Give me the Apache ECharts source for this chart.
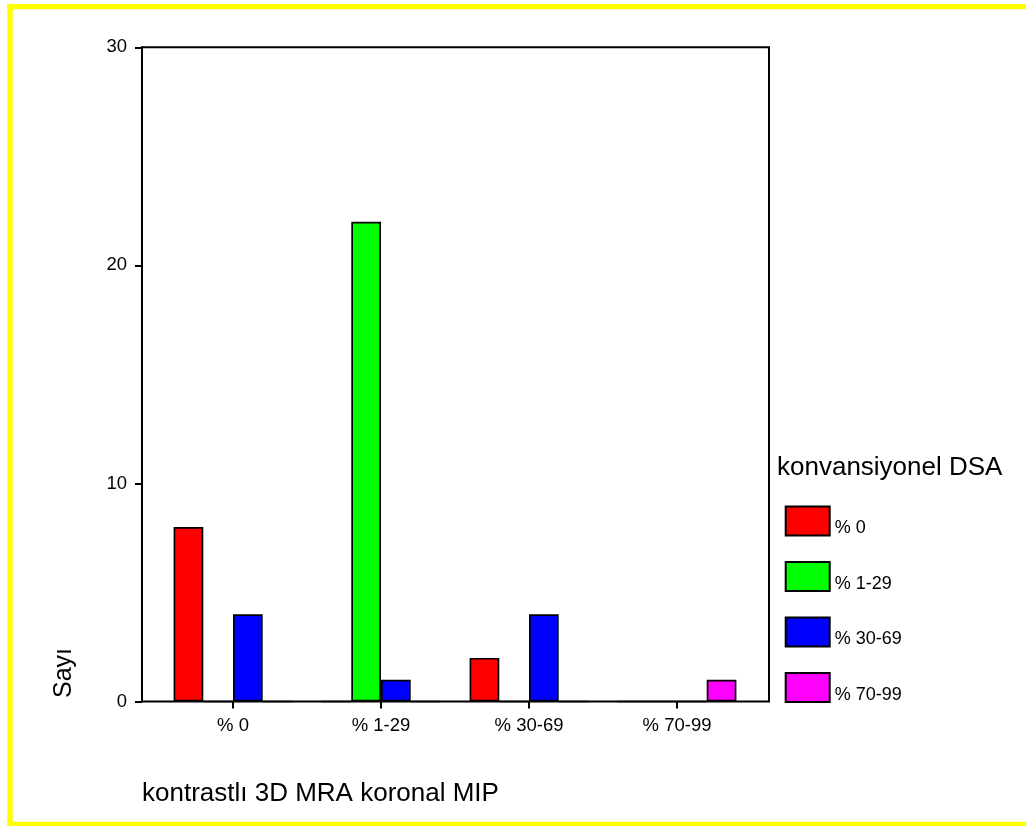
<!DOCTYPE html>
<html>
<head>
<meta charset="utf-8">
<script src="https://cdn.jsdelivr.net/npm/echarts@6/dist/echarts.min.js"></script>
<style>
html,body{margin:0;padding:0;background:#fff;}
#chart{width:1026px;height:826px;}
</style>
</head>
<body>
<div id="chart"></div>
<script>
const categories = ['% 0', '% 1-29', '% 30-69', '% 70-99'];
const seriesNames = ['% 0', '% 1-29', '% 30-69', '% 70-99'];
const dsa0 = [8, 0, 2, 0];
const dsa1_29 = [0, 22, 0, 0];
const dsa30_69 = [4, 1, 4, 0];
const dsa70_99 = [0, 0, 0, 1];
const yTicks = [0, 10, 20, 30];
const seriesColors = ['#ff0000', '#00ff00', '#0000ff', '#ff00ff'];
const xTitle = 'kontrastlı 3D MRA koronal MIP';
const yTitle = 'Sayı';
const legendTitle = 'konvansiyonel DSA';

const FONT = '"Liberation Sans", Arial, sans-serif';
const seriesData = [dsa0, dsa1_29, dsa30_69, dsa70_99];

const chart = echarts.init(document.getElementById('chart'), null, {renderer: 'canvas'});
const option = {
  animation: false,
  backgroundColor: '#ffffff',
  textStyle: {fontFamily: FONT, color: '#000'},
  grid: [
    {left: 142, top: 47.3, width: 627, height: 654.2, show: true, borderColor: '#000', borderWidth: 2, backgroundColor: 'transparent'},
    {left: 159, top: 47.3, width: 592, height: 654.2, show: false}
  ],
  xAxis: [
    {gridIndex: 0, type: 'value', min: 0, max: 1, show: false},
    {gridIndex: 1, type: 'category', data: categories,
      axisLine: {show: false},
      axisTick: {show: true, alignWithLabel: true, length: 7, lineStyle: {color: '#000', width: 2}},
      axisLabel: {margin: 15, fontSize: 18.5, color: '#000', fontFamily: FONT},
      splitLine: {show: false}
    }
  ],
  yAxis: [
    {gridIndex: 0, type: 'value', min: yTicks[0], max: yTicks[yTicks.length - 1], interval: yTicks[1] - yTicks[0],
      axisLine: {show: true, lineStyle: {color: '#000', width: 2}},
      axisTick: {show: true, length: 7, lineStyle: {color: '#000', width: 2}},
      axisLabel: {margin: 15, fontSize: 18.5, color: '#000', fontFamily: FONT},
      splitLine: {show: false}
    },
    {gridIndex: 1, type: 'value', min: yTicks[0], max: yTicks[yTicks.length - 1], show: false}
  ],
  legend: {
    orient: 'vertical',
    left: 784.7,
    top: 505.5,
    itemWidth: 44,
    itemHeight: 29,
    itemGap: 23.5,
    icon: 'rect',
    padding: 0,
    formatter: function (name) { return '{t|' + name + '}'; },
    textStyle: {
      fontSize: 18, color: '#000', fontFamily: FONT,
      rich: {t: {fontSize: 18, color: '#000', fontFamily: FONT, padding: [15, 0, 0, 0]}}
    },
    data: seriesNames
  },
  series: seriesNames.map((name, i) => ({
    name: name,
    type: 'bar',
    xAxisIndex: 1,
    yAxisIndex: 1,
    barWidth: 29.7,
    barGap: '0%',
    data: seriesData[i],
    itemStyle: {color: seriesColors[i], borderColor: '#000', borderWidth: 1.7}
  })),
  graphic: [
    {type: 'rect', shape: {x: 7.3, y: 4, width: 5.4, height: 822}, style: {fill: '#ffff00'}, silent: true},
    {type: 'rect', shape: {x: 7.3, y: 4, width: 1019, height: 5.3}, style: {fill: '#ffff00'}, silent: true},
    {type: 'rect', shape: {x: 7.3, y: 821.7, width: 1019, height: 4.3}, style: {fill: '#ffff00'}, silent: true},
    {type: 'text', x: 142, y: 794, style: {text: xTitle, font: '26px ' + FONT, fill: '#000', textAlign: 'left', textVerticalAlign: 'middle'}},
    {type: 'text', x: 777, y: 468, style: {text: legendTitle, font: '26px ' + FONT, fill: '#000', textAlign: 'left', textVerticalAlign: 'middle'}},
    {type: 'text', x: 64, y: 673, rotation: Math.PI / 2, style: {text: yTitle, font: '25px ' + FONT, fill: '#000', textAlign: 'center', textVerticalAlign: 'middle'}}
  ]
};
chart.setOption(option);
</script>
</body>
</html>
